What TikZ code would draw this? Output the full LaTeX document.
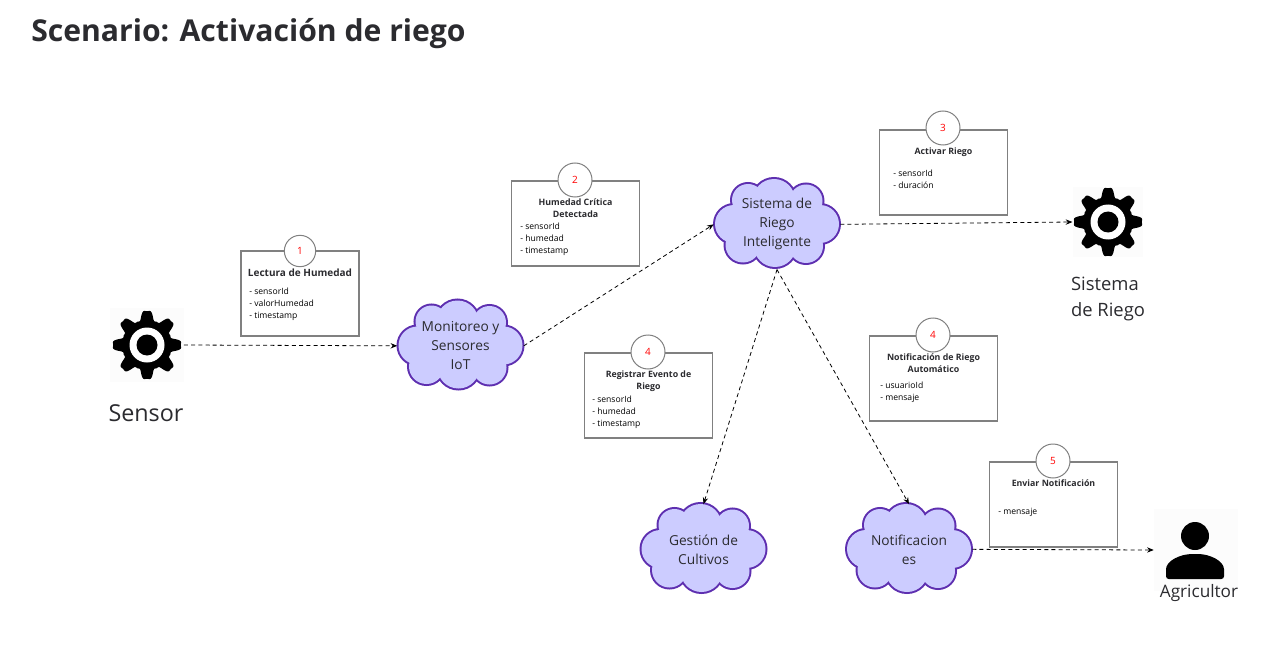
\documentclass[tikz,border=0pt]{standalone}
\usepackage{fontspec}
\setmainfont{Open Sans}
\usetikzlibrary{arrows.meta}
\definecolor{cloudline}{HTML}{5E2FB0}
\definecolor{cloudfill}{HTML}{CCCCFF}
\definecolor{inktext}{HTML}{2B2B2F}
\newcommand{\gearicon}[1]{
    \begin{scope}[shift={(#1)}]
        \fill[black] plot[domain=0:358,samples=180,smooth cycle] (\x:{29.5+5.4*(cos(8*\x)-0.2*cos(24*\x))});
        \fill[white] (0,0) circle (17.5);
        \fill[black] (0,0) circle (10.5);
    \end{scope}
}
\newcommand{\cloudlobes}{-43/1/19,-29/-23/16,-3/-23/21,29/-22/16.5,43/1/19,29/23/17,-2/23/21,-34/22/17.5}
\newcommand{\cloudoutline}[1]{
    \begin{scope}[shift={(#1)}]
        \foreach \lobex/\lobey/\lober in \cloudlobes
            \draw[cloudline,line width=3pt] (\lobex,\lobey) circle (\lober);
        \foreach \lobex/\lobey/\lober in \cloudlobes
            \fill[cloudfill] (\lobex,\lobey) circle (\lober);
        \fill[cloudfill] (0,0) ellipse (42 and 28);
    \end{scope}
}
\tikzset{
    flow/.style={draw=black,line width=0.6pt,dash pattern=on 3pt off 2.4pt,-{Stealth[length=5pt,width=4pt]}},
    cloudbox/.style={minimum width=94.5pt,minimum height=67.5pt,inner sep=0pt,yshift=-1pt,font=\fontsize{10.3}{14.25}\selectfont,text=inktext,align=center},
    msgbox/.style={draw=black!50,line width=0.9pt,fill=white,minimum width=96pt,minimum height=63.75pt,inner sep=0pt},
    stepmark/.style={circle,draw=black!50,line width=0.75pt,fill=white,text=red,minimum size=25.5pt,inner sep=0pt,font=\fontsize{7.5}{9}\selectfont},
    msgtitle/.style={font=\fontsize{6.6}{9}\selectfont\bfseries,text=inktext,align=center},
    msgfields/.style={font=\fontsize{6.45}{9}\selectfont,text=black,align=left,anchor=north west,inner sep=0pt},
    iconbox/.style={fill=black!1,inner sep=0pt},
    actorname/.style={font=\fontsize{12.9}{17}\selectfont,text=inktext,align=center}
}
\begin{document}
\begin{tikzpicture}[x=0.75pt,y=-0.75pt]
    \useasboundingbox (0,0) rectangle (1269,659);
    \node[anchor=west,font=\fontsize{22.6}{26}\selectfont\bfseries,text=inktext,inner sep=0pt] (title) at (31,33.5) {Scenario: Activación de riego};

    % icons
    \node[iconbox,minimum width=55pt,minimum height=55pt] (sensor) at (147,345) {};
    \gearicon{147,345}
    \node[actorname,font=\fontsize{17.5}{21}\selectfont] (sensorname) at (146,413) {Sensor};

    \node[iconbox,minimum width=53pt,minimum height=53pt] (riego) at (1108,222) {};
    \gearicon{1108,222}
    \node[actorname,font=\fontsize{13.8}{19.5}\selectfont,align=left] (riegoname) at (1108,298.5) {Sistema\\de Riego};

    \node[iconbox,minimum width=63pt,minimum height=61.5pt] (agricultor) at (1196,550) {};
    \fill[black] (1195,536) circle (14);
    \fill[black,rounded corners=2pt] (1166,579) -- (1166,572) .. controls (1166,561) and (1180,554) .. (1195,554) .. controls (1210,554) and (1224,561) .. (1224,572) -- (1224,579) -- cycle;
    \node[actorname] (agricultorname) at (1199,593) {Agricultor};

    % clouds
    \cloudoutline{460.5,344.5}
    \node[cloudbox] (monitoreo) at (460.5,344.5) {Monitoreo y\\Sensores\\IoT};
    \cloudoutline{777,223}
    \node[cloudbox] (sistema) at (777,223) {Sistema de\\Riego\\Inteligente};
    \cloudoutline{703.5,548}
    \node[cloudbox] (gestion) at (703.5,548) {Gestión de\\Cultivos};
    \cloudoutline{909,548}
    \node[cloudbox] (notificaciones) at (909,548) {Notificacion\\es};

    % connectors
    \draw[flow] (sensor.east) -- (monitoreo.west);
    \draw[flow] (monitoreo.east) -- (sistema.west);
    \draw[flow] (sistema.east) -- (riego.west);
    \draw[flow] (sistema.south) -- (gestion.north);
    \draw[flow] (sistema.south) -- (notificaciones.north);
    \draw[flow] (notificaciones.east) -- (agricultor.west);

    % messages
    \node[msgbox,minimum width=88.5pt] (box1) at (300,293.5) {};
    \node[stepmark,minimum size=23.5pt] (step1) at (300,251) {1};
    \node[msgtitle,font=\fontsize{7.5}{9}\selectfont\bfseries] (title1) at (300,272.5) {Lectura de Humedad};
    \node[msgfields] (fields1) at (249,288) {- sensorId\\- valorHumedad\\- timestamp};

    \node[msgbox] (box2) at (575.5,223.5) {};
    \node[stepmark] (step2) at (575,180) {2};
    \node[msgtitle] (title2) at (575.5,208) {Humedad Crítica\\Detectada};
    \node[msgfields] (fields2) at (520,223) {- sensorId\\- humedad\\- timestamp};

    \node[msgbox] (box3) at (943.5,172.5) {};
    \node[stepmark] (step3) at (943,128) {3};
    \node[msgtitle] (title3) at (943.5,152.5) {Activar Riego};
    \node[msgfields] (fields3) at (893,170) {- sensorId\\- duración};

    \node[msgbox] (box4) at (648.5,395.5) {};
    \node[stepmark] (step4) at (648,352) {4};
    \node[msgtitle] (title4) at (648.5,381) {Registrar Evento de\\Riego};
    \node[msgfields] (fields4) at (592,396) {- sensorId\\- humedad\\- timestamp};

    \node[msgbox] (box5) at (933.5,378.5) {};
    \node[stepmark] (step5) at (933,335) {4};
    \node[msgtitle] (title5) at (933.5,363) {Notificación de Riego\\Automático};
    \node[msgfields] (fields5) at (880,382) {- usuarioId\\- mensaje};

    \node[msgbox] (box6) at (1053.5,504.5) {};
    \node[stepmark] (step6) at (1053,461) {5};
    \node[msgtitle] (title6) at (1053.5,483) {Enviar Notificación};
    \node[msgfields] (fields6) at (998,508) {- mensaje};
\end{tikzpicture}
\end{document}
